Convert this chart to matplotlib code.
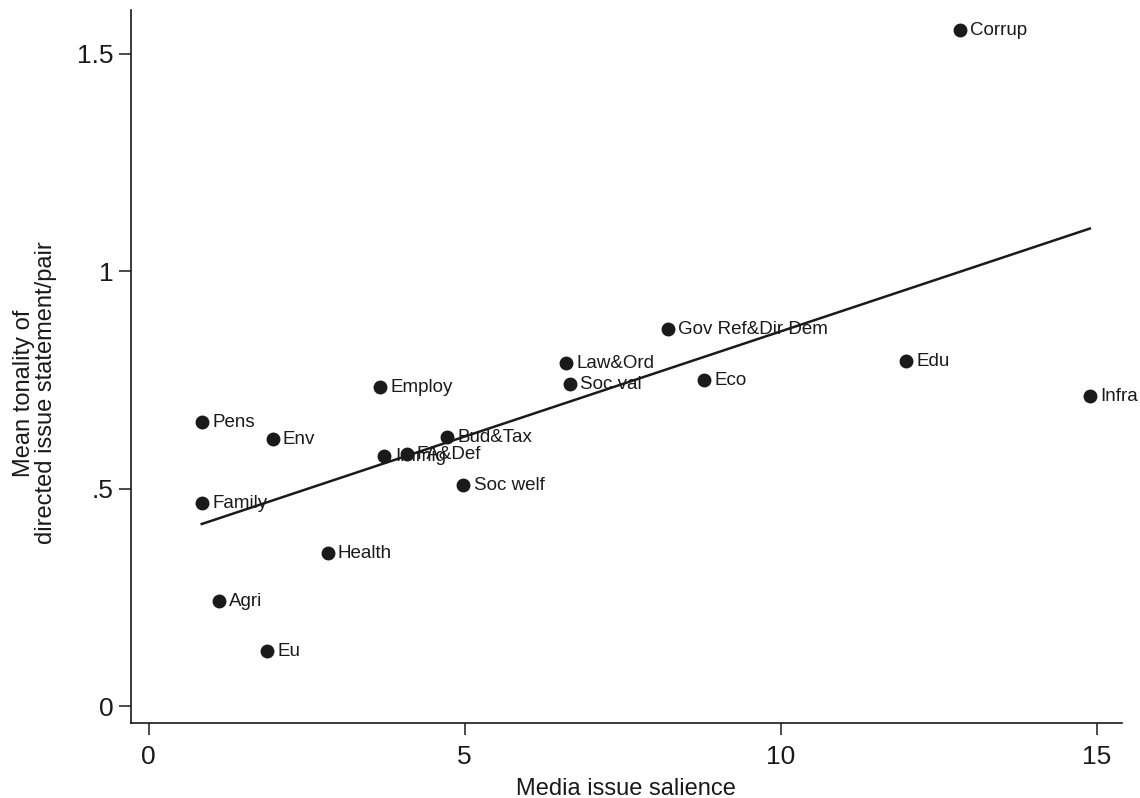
import numpy as np
import matplotlib
matplotlib.use("Agg")
import matplotlib.pyplot as plt

plt.rcParams['font.family'] = ['Liberation Sans', 'DejaVu Sans']

issues = ["Corrup", "Infra", "Edu", "Eco", "Gov Ref&Dir Dem", "Law&Ord", "Soc val",
          "Employ", "Bud&Tax", "FA&Def", "Immig", "Soc welf", "Pens", "Env",
          "Family", "Health", "Agri", "Eu"]
salience = [12.83, 14.89, 11.98, 8.78, 8.21, 6.60, 6.66,
            3.66, 4.72, 4.08, 3.73, 4.98, 0.84, 1.96,
            0.84, 2.83, 1.11, 1.87]
tonality = [1.553, 0.712, 0.793, 0.749, 0.866, 0.788, 0.740,
            0.733, 0.618, 0.579, 0.574, 0.508, 0.652, 0.613,
            0.466, 0.351, 0.241, 0.126]

x = np.array(salience)
y = np.array(tonality)
ink = '#1a1a1a'

fig = plt.figure(figsize=(11.4, 7.98), dpi=100)
ax = fig.add_axes([131/1140, 1 - 723/798, (1122-131)/1140, (723-10)/798])

ax.plot(x, y, 'o', color=ink, markersize=9)
for name, xi, yi in zip(issues, x, y):
    ax.annotate(name, (xi, yi), xytext=(7.5, 0), textcoords='offset points',
                va='center', ha='left', fontsize=13.5, color=ink)

# linear fit
b1, b0 = np.polyfit(x, y, 1)
xs = np.array([x.min(), x.max()])
ax.plot(xs, b0 + b1 * xs, color=ink, linewidth=1.8)

ax.set_xlim(-0.28, 15.4)
ax.set_ylim(-0.039, 1.60)
ax.set_xticks([0, 5, 10, 15])
ax.set_xticklabels(['0', '5', '10', '15'])
ax.set_yticks([0, 0.5, 1, 1.5])
ax.set_yticklabels(['0', '.5', '1', '1.5'])
ax.tick_params(axis='both', labelsize=19, direction='out', color=ink,
               labelcolor=ink, width=1.1, length=8.5)
ax.tick_params(axis='x', pad=7)
ax.tick_params(axis='y', pad=4)
for s in ['top', 'right']:
    ax.spines[s].set_visible(False)
for s in ['left', 'bottom']:
    ax.spines[s].set_linewidth(1.2)
    ax.spines[s].set_color(ink)

fig.text(626/1140, 1 - 795/798, "Media issue salience", fontsize=17,
         ha='center', va='baseline', color=ink)
fig.text(35/1140, 1 - 393/798, "Mean tonality of\ndirected issue statement/pair",
         fontsize=17, rotation=90, ha='center', va='center',
         multialignment='center', linespacing=1.0, color=ink)

plt.savefig('out.png', dpi=100)
